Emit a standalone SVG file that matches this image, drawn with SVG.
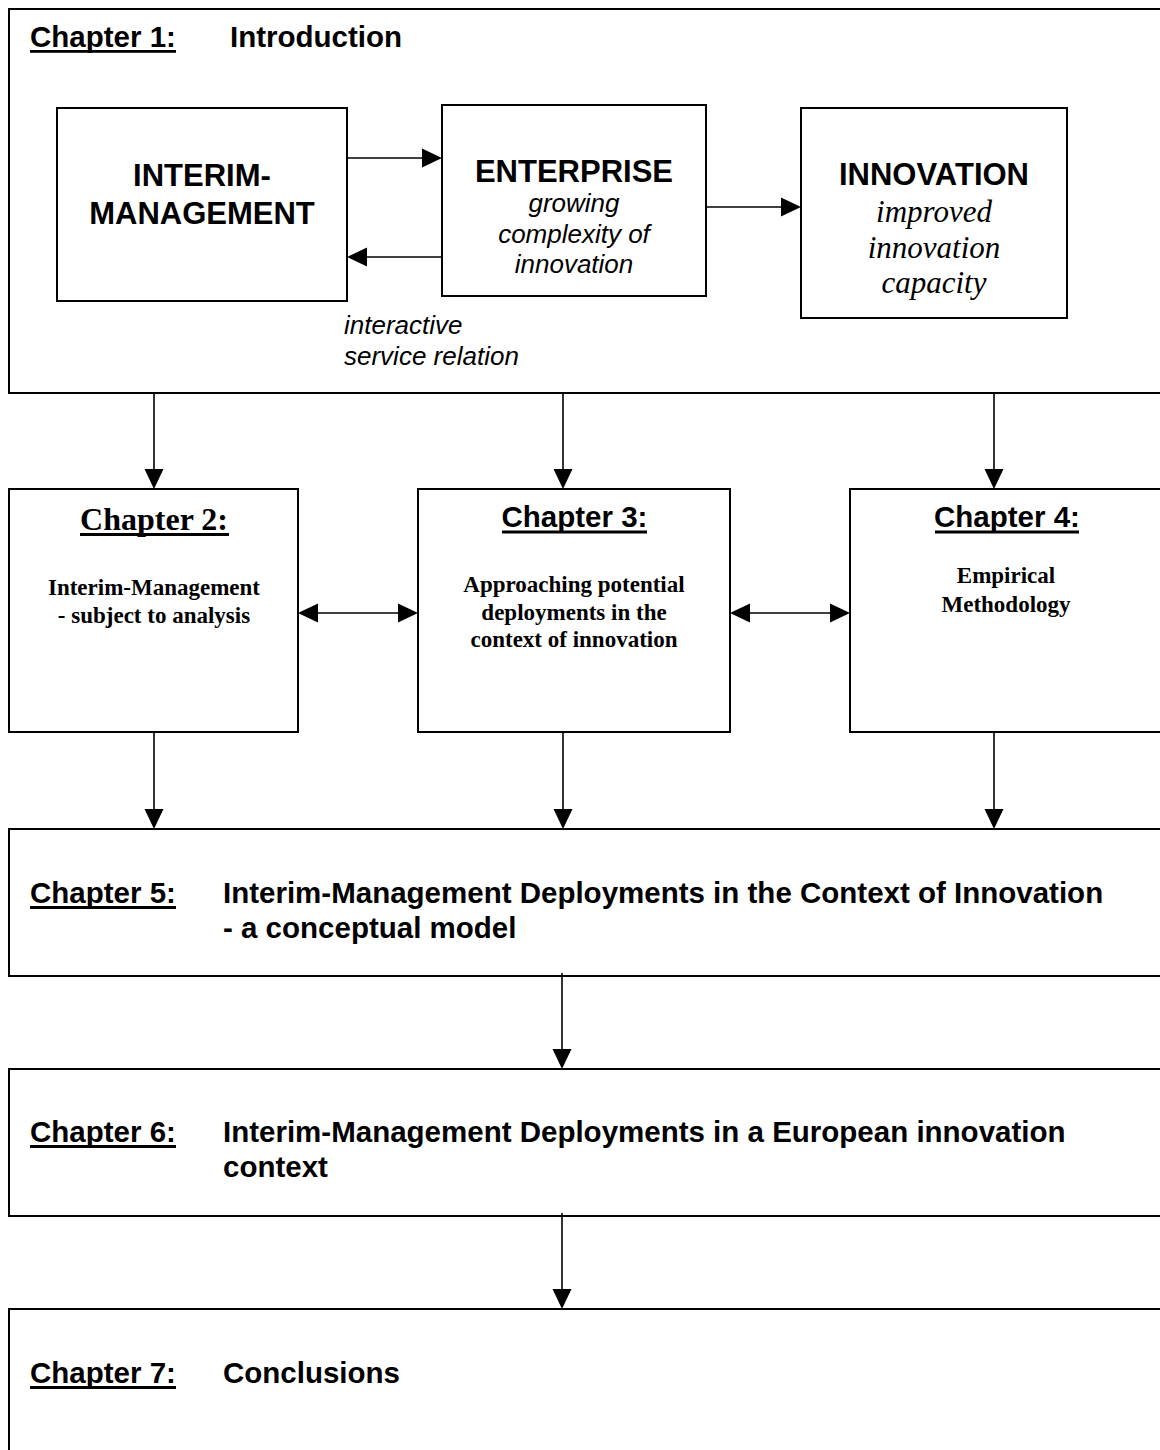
<svg xmlns="http://www.w3.org/2000/svg" width="1160" height="1450" viewBox="0 0 1160 1450">
<style>
.box{fill:#fff;stroke:#000;stroke-width:2}
.ln{fill:none;stroke:#000;stroke-width:1.6}
.h{font-family:"Liberation Sans",Arial,sans-serif;font-weight:bold;font-size:29.5px;fill:#000}
.big{font-family:"Liberation Sans",Arial,sans-serif;font-weight:bold;font-size:31px;fill:#000;text-anchor:middle}
.it{font-family:"Liberation Sans",Arial,sans-serif;font-style:italic;font-size:26px;fill:#000}
.tit{font-family:"Liberation Serif","Times New Roman",serif;font-style:italic;font-size:31px;fill:#000;text-anchor:middle}
.tb{font-family:"Liberation Serif","Times New Roman",serif;font-weight:bold;font-size:23px;fill:#000;text-anchor:middle}
.tbh{font-family:"Liberation Serif","Times New Roman",serif;font-weight:bold;font-size:32px;fill:#000;text-anchor:middle}
.ul{fill:#000}
.mid{text-anchor:middle}
</style>
<defs>
<marker id="ah" viewBox="0 0 20 20" markerWidth="20" markerHeight="20" refX="10" refY="10" orient="auto-start-reverse" markerUnits="userSpaceOnUse">
<path d="M0,0.5 L20,10 L0,19.5 Z" fill="#000"/>
</marker>
</defs>
<rect width="1160" height="1450" fill="#fff"/>

<g id="chapter1">
<rect class="box" x="9" y="9" width="1157" height="384"/>
<text class="h" x="30" y="47">Chapter 1:</text>
<rect class="ul" x="30" y="50" width="146" height="2.8"/>
<text class="h" x="230" y="47">Introduction</text>
<text class="it" x="344" y="334">interactive</text>
<text class="it" x="344" y="365">service relation</text>
</g>

<g id="interim-management">
<rect class="box" x="57" y="108" width="290" height="193"/>
<text class="big" x="202" y="186">INTERIM-</text>
<text class="big" x="202" y="224">MANAGEMENT</text>
</g>

<g id="enterprise">
<rect class="box" x="442" y="105" width="264" height="191"/>
<text class="big" x="574" y="182">ENTERPRISE</text>
<text class="it mid" x="574" y="212">growing</text>
<text class="it mid" x="574" y="243">complexity of</text>
<text class="it mid" x="574" y="273">innovation</text>
</g>

<g id="innovation">
<rect class="box" x="801" y="108" width="266" height="210"/>
<text class="big" x="934" y="185">INNOVATION</text>
<text class="tit" x="934" y="222">improved</text>
<text class="tit" x="934" y="258">innovation</text>
<text class="tit" x="934" y="293">capacity</text>
</g>

<g id="chapter2">
<rect class="box" x="9" y="489" width="289" height="243"/>
<text class="tbh" x="154" y="530">Chapter 2:</text>
<rect class="ul" x="80" y="533" width="149" height="3"/>
<text class="tb" x="154" y="595">Interim-Management</text>
<text class="tb" x="154" y="623">- subject to analysis</text>
</g>

<g id="chapter3">
<rect class="box" x="418" y="489" width="312" height="243"/>
<text class="h mid" x="574.5" y="527">Chapter 3:</text>
<rect class="ul" x="502" y="530.5" width="145" height="3"/>
<text class="tb" x="574" y="592">Approaching potential</text>
<text class="tb" x="574" y="620">deployments in the</text>
<text class="tb" x="574" y="647">context of innovation</text>
</g>

<g id="chapter4">
<rect class="box" x="850" y="489" width="315" height="243"/>
<text class="h mid" x="1007" y="527">Chapter 4:</text>
<rect class="ul" x="935" y="530.5" width="144" height="3"/>
<text class="tb" x="1006" y="583">Empirical</text>
<text class="tb" x="1006" y="612">Methodology</text>
</g>

<g id="chapter5">
<rect class="box" x="9" y="829" width="1157" height="147"/>
<text class="h" x="30" y="903">Chapter 5:</text>
<rect class="ul" x="30" y="906" width="146" height="3"/>
<text class="h" x="223" y="903">Interim-Management Deployments in the Context of Innovation</text>
<text class="h" x="223" y="938">- a conceptual model</text>
</g>

<g id="chapter6">
<rect class="box" x="9" y="1069" width="1157" height="147"/>
<text class="h" x="30" y="1142">Chapter 6:</text>
<rect class="ul" x="30" y="1145" width="146" height="3"/>
<text class="h" x="223" y="1142">Interim-Management Deployments in a European innovation</text>
<text class="h" x="223" y="1177">context</text>
</g>

<g id="chapter7">
<rect class="box" x="9" y="1309" width="1157" height="200"/>
<text class="h" x="30" y="1383">Chapter 7:</text>
<rect class="ul" x="30" y="1386" width="146" height="3"/>
<text class="h" x="223" y="1383">Conclusions</text>
</g>

<g id="connectors">
<line class="ln" x1="347" y1="158" x2="432" y2="158" marker-end="url(#ah)"/>
<line class="ln" x1="442" y1="257" x2="357" y2="257" marker-end="url(#ah)"/>
<line class="ln" x1="706" y1="207" x2="791" y2="207" marker-end="url(#ah)"/>
<line class="ln" x1="154" y1="393" x2="154" y2="479" marker-end="url(#ah)"/>
<line class="ln" x1="563" y1="393" x2="563" y2="479" marker-end="url(#ah)"/>
<line class="ln" x1="994" y1="393" x2="994" y2="479" marker-end="url(#ah)"/>
<line class="ln" x1="308" y1="613" x2="408" y2="613" marker-start="url(#ah)" marker-end="url(#ah)"/>
<line class="ln" x1="740" y1="613" x2="840" y2="613" marker-start="url(#ah)" marker-end="url(#ah)"/>
<line class="ln" x1="154" y1="732" x2="154" y2="819" marker-end="url(#ah)"/>
<line class="ln" x1="563" y1="732" x2="563" y2="819" marker-end="url(#ah)"/>
<line class="ln" x1="994" y1="732" x2="994" y2="819" marker-end="url(#ah)"/>
<line class="ln" x1="562" y1="973" x2="562" y2="1059" marker-end="url(#ah)"/>
<line class="ln" x1="562" y1="1213" x2="562" y2="1299" marker-end="url(#ah)"/>
</g>
</svg>
